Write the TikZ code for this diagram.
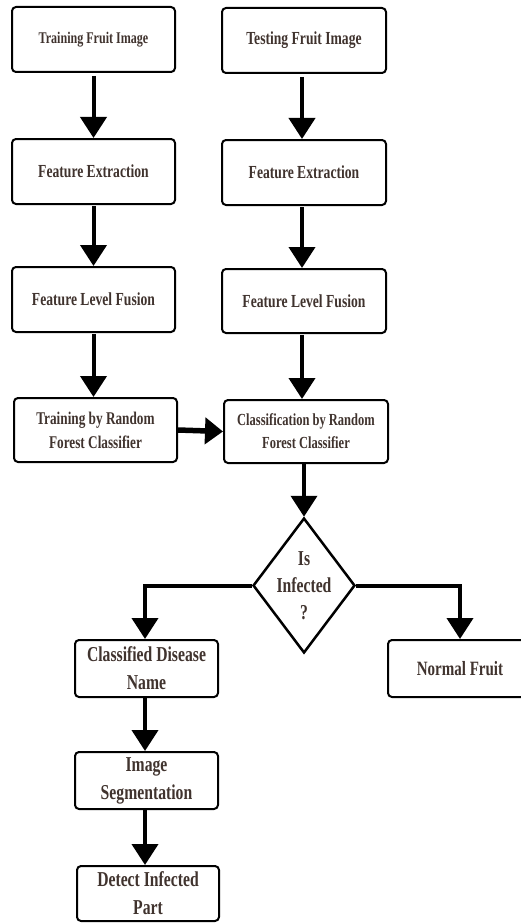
\documentclass[tikz,border=0pt]{standalone}
\usepackage{fontspec}
\setmainfont{Liberation Serif}[FakeStretch=0.74]
\usetikzlibrary{shapes.geometric,arrows.meta}
\definecolor{txt}{rgb}{0.25,0.20,0.18}
\tikzset{
  box/.style={draw=black, line width=2pt, rounded corners=4pt, rectangle, inner sep=0pt,
    align=center, text=txt, font=\bfseries\fontsize{18.4}{24}\selectfont},
  bigtxt/.style={font=\bfseries\fontsize{21.2}{28}\selectfont},
  flow/.style={line width=4pt, -{Triangle[width=26pt,length=21pt]}},
  side/.style={line width=5.5pt, -{Triangle[width=26pt,length=18pt]}},
}
\begin{document}
\begin{tikzpicture}[x=1pt,y=-1pt]
\useasboundingbox (0,0) rectangle (521,923);
% left column
\node[box, minimum width=163pt, minimum height=65pt, font=\bfseries\fontsize{16.3}{20}\selectfont] (tr1) at (93.5,39.5) {Training Fruit Image};
\node[box, minimum width=163pt, minimum height=65pt] (tr2) at (93.5,171.5) {Feature Extraction};
\node[box, minimum width=163pt, minimum height=65pt] (tr3) at (93.5,299.5) {Feature Level Fusion};
\node[box, minimum width=163pt, minimum height=64pt, font=\bfseries\fontsize{17.9}{24}\selectfont] (tr4) at (95.5,430) {Training by Random\\Forest Classifier};
% right column
\node[box, minimum width=164pt, minimum height=65pt] (te1) at (304,40.5) {Testing Fruit Image};
\node[box, minimum width=164pt, minimum height=65pt] (te2) at (304,172.5) {Feature Extraction};
\node[box, minimum width=164pt, minimum height=64pt] (te3) at (304,301) {Feature Level Fusion};
\node[box, minimum width=164pt, minimum height=63pt, font=\bfseries\fontsize{16.9}{23}\selectfont] (te4) at (306,431.5) {Classification by Random\\Forest Classifier};
% decision
\node[diamond, draw=black, line width=2.5pt, minimum width=102pt, minimum height=135pt, inner sep=0pt] (dia) at (304,585.5) {};
\node[align=center, text=txt, font=\bfseries\fontsize{21.2}{27}\selectfont] (diatxt) at (304,586) {Is\\Infected\\?};
% lower boxes
\node[box, bigtxt, minimum width=143pt, minimum height=57pt] (cdn) at (146.5,668.5) {Classified Disease\\Name};
\node[box, minimum width=144pt, minimum height=57pt, font=\bfseries\fontsize{20.3}{28}\selectfont] (nf) at (460,668.5) {Normal Fruit};
\node[box, bigtxt, minimum width=143pt, minimum height=57pt] (seg) at (146.5,780.5) {Image\\Segmentation};
\node[box, bigtxt, minimum width=142pt, minimum height=55pt] (det) at (148,893.5) {Detect Infected\\Part};
% arrows
\draw[flow, shorten <=3pt] (tr1.south) -- (tr2.north);
\draw[flow, shorten <=1pt] (tr2.south) -- (tr3.north);
\draw[flow, shorten <=1pt] (tr3.south) -- (tr3.south |- tr4.north);
\draw[flow, shorten <=3pt] ([xshift=-2pt]te1.south) -- ([xshift=-2pt]te2.north);
\draw[flow, shorten <=1pt] ([xshift=-2pt]te2.south) -- ([xshift=-2pt]te3.north);
\draw[flow, shorten <=1pt] ([xshift=-2pt]te3.south) -- ([xshift=-4pt]te4.north);
\draw[side] (tr4.east) -- (te4.west);
\draw[flow] ([xshift=-2pt]te4.south) -- (dia.north);
\draw[flow] (dia.west) -| ([xshift=-1.5pt]cdn.north);
\draw[flow] (dia.east) -| (nf.north);
\draw[flow] ([xshift=-1.5pt]cdn.south) -- ([xshift=-1.5pt]seg.north);
\draw[flow] ([xshift=-1.5pt]seg.south) -- ([xshift=-3pt]det.north);
\end{tikzpicture}
\end{document}
